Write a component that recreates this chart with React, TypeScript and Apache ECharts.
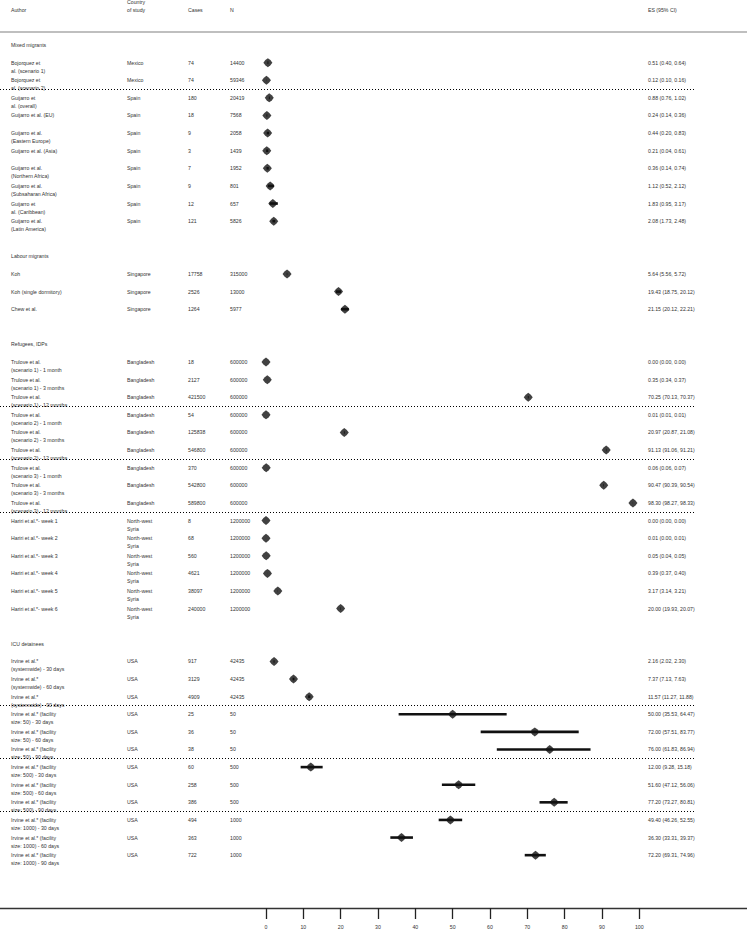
import React, { useEffect, useRef } from "react";
import * as echarts from "echarts";

const groupNames = ["Mixed migrants", "Labour migrants", "Refugees, IDPs", "ICU detainees"];
const groupSizes = [10, 3, 15, 12];

const authors = [
  "Bojorquez et\nal. (scenario 1)",
  "Bojorquez et\nal. (scenario 2)",
  "Guijarro et\nal. (overall)",
  "Guijarro et al. (EU)",
  "Guijarro et al.\n(Eastern Europe)",
  "Guijarro et al. (Asia)",
  "Guijarro et al.\n(Northern Africa)",
  "Guijarro et al.\n(Subsaharan Africa)",
  "Guijarro et\nal. (Caribbean)",
  "Guijarro et al.\n(Latin America)",
  "Koh",
  "Koh (single dormitory)",
  "Chew et al.",
  "Trulove et al.\n(scenario 1) - 1 month",
  "Trulove et al.\n(scenario 1) - 3 months",
  "Trulove et al.\n(scenario 1) - 12 months",
  "Trulove et al.\n(scenario 2) - 1 month",
  "Trulove et al.\n(scenario 2) - 3 months",
  "Trulove et al.\n(scenario 2) - 12 months",
  "Trulove et al.\n(scenario 3) - 1 month",
  "Trulove et al.\n(scenario 3) - 3 months",
  "Trulove et al.\n(scenario 3) - 12 months",
  "Hariri et al.*- week 1",
  "Hariri et al.*- week 2",
  "Hariri et al.*- week 3",
  "Hariri et al.*- week 4",
  "Hariri et al.*- week 5",
  "Hariri et al.*- week 6",
  "Irvine et al.*\n(systemwide) - 30 days",
  "Irvine et al.*\n(systemwide) - 60 days",
  "Irvine et al.*\n(systemwide) - 90 days",
  "Irvine et al.* (facility\nsize: 50) - 30 days",
  "Irvine et al.* (facility\nsize: 50) - 60 days",
  "Irvine et al.* (facility\nsize: 50) - 90 days",
  "Irvine et al.* (facility\nsize: 500) - 30 days",
  "Irvine et al.* (facility\nsize: 500) - 60 days",
  "Irvine et al.* (facility\nsize: 500) - 90 days",
  "Irvine et al.* (facility\nsize: 1000) - 30 days",
  "Irvine et al.* (facility\nsize: 1000) - 60 days",
  "Irvine et al.* (facility\nsize: 1000) - 90 days",
];

const countries = [
  "Mexico", "Mexico",
  "Spain", "Spain", "Spain", "Spain", "Spain", "Spain", "Spain", "Spain",
  "Singapore", "Singapore", "Singapore",
  "Bangladesh", "Bangladesh", "Bangladesh", "Bangladesh", "Bangladesh", "Bangladesh", "Bangladesh", "Bangladesh", "Bangladesh",
  "North-west\nSyria", "North-west\nSyria", "North-west\nSyria", "North-west\nSyria", "North-west\nSyria", "North-west\nSyria",
  "USA", "USA", "USA", "USA", "USA", "USA", "USA", "USA", "USA", "USA", "USA", "USA",
];

const cases = [
  74, 74, 180, 18, 9, 3, 7, 9, 12, 121,
  17758, 2526, 1264,
  18, 2127, 421500, 54, 125838, 546800, 370, 542800, 589800,
  8, 68, 560, 4621, 38097, 240000,
  917, 3129, 4909, 25, 36, 38, 60, 258, 386, 494, 363, 722,
];

const totals = [
  14400, 59346, 20419, 7568, 2058, 1439, 1952, 801, 657, 5826,
  315000, 13000, 5977,
  600000, 600000, 600000, 600000, 600000, 600000, 600000, 600000, 600000,
  1200000, 1200000, 1200000, 1200000, 1200000, 1200000,
  42435, 42435, 42435, 50, 50, 50, 500, 500, 500, 1000, 1000, 1000,
];

const es = [
  0.51, 0.12, 0.88, 0.24, 0.44, 0.21, 0.36, 1.12, 1.83, 2.08,
  5.64, 19.43, 21.15,
  0.0, 0.35, 70.25, 0.01, 20.97, 91.13, 0.06, 90.47, 98.3,
  0.0, 0.01, 0.05, 0.39, 3.17, 20.0,
  2.16, 7.37, 11.57, 50.0, 72.0, 76.0, 12.0, 51.6, 77.2, 49.4, 36.3, 72.2,
];

const ciLow = [
  0.4, 0.1, 0.76, 0.14, 0.2, 0.04, 0.14, 0.52, 0.95, 1.73,
  5.56, 18.75, 20.12,
  0.0, 0.34, 70.13, 0.01, 20.87, 91.06, 0.06, 90.39, 98.27,
  0.0, 0.0, 0.04, 0.37, 3.14, 19.93,
  2.02, 7.13, 11.27, 35.53, 57.51, 61.83, 9.28, 47.12, 73.27, 46.26, 33.31, 69.31,
];

const ciHigh = [
  0.64, 0.16, 1.02, 0.36, 0.83, 0.61, 0.74, 2.12, 3.17, 2.48,
  5.72, 20.12, 22.21,
  0.0, 0.37, 70.37, 0.01, 21.08, 91.21, 0.07, 90.54, 98.33,
  0.0, 0.01, 0.05, 0.4, 3.21, 20.07,
  2.3, 7.63, 11.88, 64.47, 83.77, 86.94, 15.18, 56.06, 80.81, 52.55, 39.37, 74.96,
];

const separatorAfter = [1, 15, 18, 21, 30, 33, 36];
const xTicks = [0, 10, 20, 30, 40, 50, 60, 70, 80, 90, 100];
const headerLabels = ["Author", "Country\nof study", "Cases", "N", "ES (95% CI)"];

// layout
const FONT = "Liberation Sans";
const FS = 5.2;
const LH = 8;
const TEXT = "#333";
const colX = [11, 127, 188, 230, 648];
const MARKER = "path://M5 0 L7.8 2.2 L10 5 L7.8 7.8 L5 10 L2.2 7.8 L0 5 L2.2 2.2 Z";

export default function App() {
  const ref = useRef<HTMLDivElement>(null);

  useEffect(() => {
    if (!ref.current) return;
    const chart = echarts.init(ref.current, undefined, { renderer: "svg" });

    const studyRows: number[] = [];
    const headerRows: number[] = [];
    let r = 0;
    groupSizes.forEach((n) => {
      headerRows.push(r);
      for (let i = 0; i < n; i++) studyRows.push(r + 1 + i);
      r += n + 2;
    });

    const fmt = (v: number) => v.toFixed(2);
    const esText = es.map((v, i) => `${fmt(v)} (${fmt(ciLow[i])}, ${fmt(ciHigh[i])})`);

    const txt = (text: string, x: number, y: number, va: string) => ({
      type: "text",
      x,
      y,
      silent: true,
      style: {
        text,
        fill: TEXT,
        fontSize: FS,
        fontFamily: FONT,
        lineHeight: LH,
        verticalAlign: va,
        align: "left",
      },
    });

    const option: any = {
      animation: false,
      backgroundColor: "#fff",
      grid: { left: 0, right: 0, top: 1, bottom: 22, outerBoundsMode: "none" },
      xAxis: {
        type: "value",
        position: "bottom",
        min: -71.25,
        max: 128.85,
        axisLine: { show: true, onZero: false, lineStyle: { color: "#333", width: 1.3 } },
        axisTick: {
          show: true,
          customValues: xTicks,
          length: 11,
          lineStyle: { color: "#222", width: 1.3 },
        },
        axisLabel: {
          customValues: xTicks,
          fontSize: FS,
          fontFamily: FONT,
          color: TEXT,
          margin: 16,
        },
        splitLine: { show: false },
      },
      yAxis: {
        type: "value",
        inverse: true,
        min: -2.5,
        max: 49,
        show: false,
        splitLine: { show: false },
      },
      graphic: [
        {
          type: "line",
          shape: { x1: 0, y1: 32, x2: 747, y2: 32 },
          style: { stroke: "#aaa", lineWidth: 1.5 },
        },
      ],
      series: [
        {
          type: "custom",
          name: "header",
          data: [[0, -2]],
          encode: { x: 0, y: 1 },
          renderItem: (params: any, api: any) => {
            const y = api.coord([0, api.value(1)])[1];
            return {
              type: "group",
              children: headerLabels.map((h, k) => txt(h, colX[k], y + LH / 2, "bottom")),
            };
          },
        },
        {
          type: "custom",
          name: "groups",
          data: headerRows.map((row, g) => [0, row, g]),
          encode: { x: 0, y: 1 },
          renderItem: (params: any, api: any) => {
            const y = api.coord([0, api.value(1)])[1];
            const g = api.value(2);
            return txt(groupNames[g], colX[0], y - LH / 2, "top");
          },
        },
        {
          type: "custom",
          name: "table",
          data: studyRows.map((row, i) => [0, row, i]),
          encode: { x: 0, y: 1 },
          renderItem: (params: any, api: any) => {
            const y = api.coord([0, api.value(1)])[1];
            const i = api.value(2);
            const cols = [authors[i], countries[i], String(cases[i]), String(totals[i]), esText[i]];
            return {
              type: "group",
              children: cols.map((c, k) => txt(c, colX[k], y - LH / 2, "top")),
            };
          },
        },
        {
          type: "custom",
          name: "separators",
          data: separatorAfter.map((i) => [0, studyRows[i] + 0.5]),
          encode: { x: 0, y: 1 },
          renderItem: (params: any, api: any) => {
            const y = Math.round(api.coord([0, api.value(1)])[1]) + 0.5;
            return {
              type: "line",
              shape: { x1: 0, y1: y, x2: 696, y2: y },
              style: { stroke: "#000", lineWidth: 1, lineDash: [1, 2] },
            };
          },
        },
        {
          type: "custom",
          name: "ci",
          data: studyRows.map((row, i) => [ciLow[i], ciHigh[i], row]),
          encode: { x: [0, 1], y: 2 },
          renderItem: (params: any, api: any) => {
            const p1 = api.coord([api.value(0), api.value(2)]);
            const p2 = api.coord([api.value(1), api.value(2)]);
            return {
              type: "line",
              shape: { x1: p1[0], y1: p1[1], x2: p2[0], y2: p2[1] },
              style: { stroke: "#111", lineWidth: 2.6 },
            };
          },
        },
        {
          type: "scatter",
          name: "ES",
          data: studyRows.map((row, i) => [es[i], row]),
          symbol: MARKER,
          symbolSize: 9,
          itemStyle: { color: "#111" },
          z: 5,
        },
      ],
    };

    chart.setOption(option);
    return () => chart.dispose();
  }, []);

  return (
    <div
      ref={ref}
      style={{ position: "fixed", left: 0, top: 0, width: 747, height: 930, background: "#fff" }}
    />
  );
}
